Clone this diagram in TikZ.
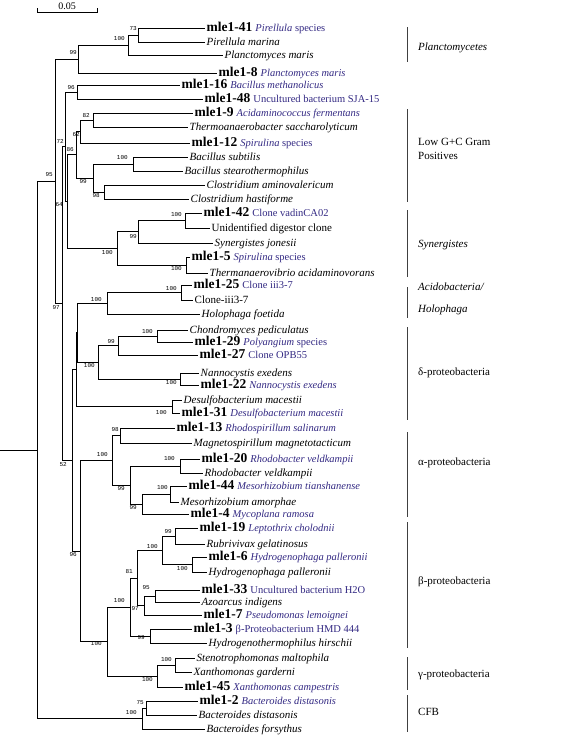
\documentclass[tikz,border=0pt]{standalone}
\usepackage{fontspec}
\setmainfont{Liberation Serif}
\newfontfamily\bsfont{Liberation Mono}
\usetikzlibrary{calc}
\definecolor{clone}{RGB}{50,40,130}
\tikzset{
 br/.style={draw=black, line width=0.8pt},
 lf/.style={anchor=west, inner sep=1.5pt, text height=8pt, text depth=2pt, font=\fontsize{11}{12}\selectfont\itshape},
 lu/.style={lf, font=\fontsize{11}{12}\selectfont},
 lm/.style={lf, font=\fontsize{11}{12}\selectfont},
 bs/.style={anchor=east, inner sep=0pt, font=\bsfont\fontsize{6}{7}\selectfont},
 grp/.style={anchor=west, inner sep=0pt, text height=8pt, text depth=2pt, font=\fontsize{11}{13}\selectfont},
 grpi/.style={grp, font=\fontsize{11}{13}\selectfont\itshape},
 gbar/.style={line width=0.9pt, draw=black!75}
}
\newcommand\ml[2]{{\fontsize{13.5}{14}\selectfont\bfseries #1}\hspace{3pt}{\color{clone}\fontsize{10.5}{12}\selectfont #2}}
\begin{document}
\begin{tikzpicture}[x=1pt,y=-1pt]
\useasboundingbox (0,0) rectangle (562,742);
% scale bar
\coordinate (sb1) at (37,12); \coordinate (sb2) at (97,12);
\draw[br] ($(sb1)+(0,-4)$) -- (sb1) -- (sb2) -- ($(sb2)+(0,-4)$);
\node[inner sep=0pt, font=\fontsize{10}{11}\selectfont] (sbl) at (67,6) {0.05};
% internal nodes
\coordinate (rs) at (0,449.9);
\coordinate (root) at (37,449.9);
\coordinate (n95) at (55,181.25);
\coordinate (p99) at (78,59);
\coordinate (p100) at (128,45);
\coordinate (p73) at (138,35);
\coordinate (n97) at (62,303.5);
\coordinate (n72) at (65,146.8);
\coordinate (bm96) at (77,92);
\coordinate (n64) at (67,201.6);
\coordinate (n86) at (76,154.75);
\coordinate (g62) at (80,131.5);
\coordinate (g82) at (93,120);
\coordinate (bc99) at (93,178);
\coordinate (bs100) at (133,164);
\coordinate (cl98) at (104,192);
\coordinate (syn100) at (117,248.4);
\coordinate (syn99) at (138,231.75);
\coordinate (s42) at (185,220.5);
\coordinate (s5) at (186,265);
\coordinate (n52) at (72,460.25);
\coordinate (nAD) at (76,369.6);
\coordinate (nADm) at (77,332.75);
\coordinate (ac100) at (107,303.25);
\coordinate (a25) at (181,292.5);
\coordinate (dm100) at (98,362.25);
\coordinate (m99) at (118,345.5);
\coordinate (cm100) at (157,336);
\coordinate (nan100) at (180,379);
\coordinate (des100) at (172,406.5);
\coordinate (pr96) at (80,550.9);
\coordinate (al100) at (112,460.25);
\coordinate (r98) at (120,435.5);
\coordinate (b99) at (130,485);
\coordinate (rb100) at (180,466);
\coordinate (mz99) at (142,504);
\coordinate (mz100) at (170,494);
\coordinate (bg100) at (107,641.5);
\coordinate (be100) at (130,606.9);
\coordinate (b81) at (137,577.9);
\coordinate (c100) at (162,550.25);
\coordinate (lep99) at (175,536);
\coordinate (hyd100) at (192,564.5);
\coordinate (b97) at (144,605.5);
\coordinate (az95) at (155,596);
\coordinate (hy99) at (150,636);
\coordinate (ga100) at (157,676);
\coordinate (st100) at (175,665);
\coordinate (cfb100) at (142,718.5);
\coordinate (c75) at (146,708);
% leaves
\node[lm] (t1) at (205,28) {\ml{mle1-41}{\textit{Pirellula} species}};
\node[lf] (t2) at (205,42) {Pirellula marina};
\node[lf] (t3) at (223,55) {Planctomyces maris};
\node[lm] (t4) at (217,73) {\ml{mle1-8}{\textit{Planctomyces maris}}};
\node[lm] (t5) at (180,85) {\ml{mle1-16}{\textit{Bacillus methanolicus}}};
\node[lm] (t6) at (203,99) {\ml{mle1-48}{Uncultured bacterium SJA-15}};
\node[lm] (t7) at (193,113) {\ml{mle1-9}{\textit{Acidaminococcus fermentans}}};
\node[lf] (t8) at (188,127) {Thermoanaerobacter saccharolyticum};
\node[lm] (t9) at (190,143) {\ml{mle1-12}{\textit{Spirulina} species}};
\node[lf] (t10) at (188,157) {Bacillus subtilis};
\node[lf] (t11) at (183,171) {Bacillus stearothermophilus};
\node[lf] (t12) at (205,185) {Clostridium aminovalericum};
\node[lf] (t13) at (189,199) {Clostridium hastiforme};
\node[lm] (t14) at (202,213) {\ml{mle1-42}{Clone vadinCA02}};
\node[lu] (t15) at (210,228) {Unidentified digestor clone};
\node[lf] (t16) at (213,243) {Synergistes jonesii};
\node[lm] (t17) at (190,257) {\ml{mle1-5}{\textit{Spirulina} species}};
\node[lf] (t18) at (208,273) {Thermanaerovibrio acidaminovorans};
\node[lm] (t19) at (192,285) {\ml{mle1-25}{Clone iii3-7}};
\node[lu] (t20) at (193,300) {Clone-iii3-7};
\node[lf] (t21) at (200,314) {Holophaga foetida};
\node[lf] (t22) at (188,330) {Chondromyces pediculatus};
\node[lm] (t23) at (193,342) {\ml{mle1-29}{\textit{Polyangium} species}};
\node[lm] (t24) at (198,355) {\ml{mle1-27}{Clone OPB55}};
\node[lf] (t25) at (199,373) {Nannocystis exedens};
\node[lm] (t26) at (199,385) {\ml{mle1-22}{\textit{Nannocystis exedens}}};
\node[lf] (t27) at (182,400) {Desulfobacterium macestii};
\node[lm] (t28) at (180,413) {\ml{mle1-31}{\textit{Desulfobacterium macestii}}};
\node[lm] (t29) at (175,428) {\ml{mle1-13}{\textit{Rhodospirillum salinarum}}};
\node[lf] (t30) at (192,443) {Magnetospirillum magnetotacticum};
\node[lm] (t31) at (200,459) {\ml{mle1-20}{\textit{Rhodobacter veldkampii}}};
\node[lf] (t32) at (203,473) {Rhodobacter veldkampii};
\node[lm] (t33) at (187,486) {\ml{mle1-44}{\textit{Mesorhizobium tianshanense}}};
\node[lf] (t34) at (179,502) {Mesorhizobium amorphae};
\node[lm] (t35) at (189,514) {\ml{mle1-4}{\textit{Mycoplana ramosa}}};
\node[lm] (t36) at (198,528) {\ml{mle1-19}{\textit{Leptothrix cholodnii}}};
\node[lf] (t37) at (205,544) {Rubrivivax gelatinosus};
\node[lm] (t38) at (207,557) {\ml{mle1-6}{\textit{Hydrogenophaga palleronii}}};
\node[lf] (t39) at (207,572) {Hydrogenophaga palleronii};
\node[lm] (t40) at (200,590) {\ml{mle1-33}{Uncultured bacterium H2O}};
\node[lf] (t41) at (200,602) {Azoarcus indigens};
\node[lm] (t42) at (202,615) {\ml{mle1-7}{\textit{Pseudomonas lemoignei}}};
\node[lm] (t43) at (192,629) {\ml{mle1-3}{β-Proteobacterium HMD 444}};
\node[lf] (t44) at (207,643) {Hydrogenothermophilus hirschii};
\node[lf] (t45) at (195,658) {Stenotrophomonas maltophila};
\node[lf] (t46) at (192,672) {Xanthomonas garderni};
\node[lm] (t47) at (183,687) {\ml{mle1-45}{\textit{Xanthomonas campestris}}};
\node[lm] (t48) at (198,701) {\ml{mle1-2}{\textit{Bacteroides distasonis}}};
\node[lf] (t49) at (197,715) {Bacteroides distasonis};
\node[lf] (t50) at (205,729) {Bacteroides forsythus};
% branches
\draw[br] (rs) -- (root);
\foreach \p/\c in {root/n95, root/cfb100, n95/p99, n95/n97, p99/p100, p99/t4, p100/p73, p100/t3, p73/t1, p73/t2,
 n97/n72, n97/n52, n72/bm96, n72/n64, bm96/t5, bm96/t6, n64/n86, n64/syn100, n86/g62, n86/bc99,
 g62/g82, g62/t9, g82/t7, g82/t8, bc99/bs100, bc99/cl98, bs100/t10, bs100/t11, cl98/t12, cl98/t13,
 syn100/syn99, syn100/s5, syn99/s42, syn99/t16, s42/t14, s42/t15, s5/t17, s5/t18,
 n52/nAD, n52/pr96, nAD/nADm, nAD/des100, nADm/ac100, nADm/dm100, ac100/a25, ac100/t21, a25/t19, a25/t20,
 dm100/m99, dm100/nan100, m99/cm100, m99/t24, cm100/t22, cm100/t23, nan100/t25, nan100/t26, des100/t27, des100/t28,
 pr96/al100, pr96/bg100, al100/r98, al100/b99, r98/t29, r98/t30, b99/rb100, b99/mz99, rb100/t31, rb100/t32,
 mz99/mz100, mz99/t35, mz100/t33, mz100/t34,
 bg100/be100, bg100/ga100, be100/b81, be100/hy99, b81/c100, b81/b97, c100/lep99, c100/hyd100,
 lep99/t36, lep99/t37, hyd100/t38, hyd100/t39, b97/az95, b97/t42, az95/t40, az95/t41, hy99/t43, hy99/t44,
 ga100/st100, ga100/t47, st100/t45, st100/t46, cfb100/c75, cfb100/t50, c75/t48, c75/t49}
 \draw[br] (\p) |- (\c);
% bootstrap values
\foreach \v/\x/\y in {73/137/29, 100/125/39, 99/77/53, 96/75/88, 82/90/116, 62/80/135, 72/64/141, 86/74/150,
 100/128/158, 95/53/175, 99/87/182, 98/100/196, 64/63/205, 100/182/215, 99/137/237, 100/113/253, 100/182/269,
 100/177/289, 100/102/300, 97/60/308, 100/153/332, 99/115/342, 100/95/366, 100/177/383, 100/167/413,
 98/119/430, 100/108/455, 100/175/459, 52/67/465, 99/125/489, 100/168/488, 99/137/508, 99/172/532,
 100/158/547, 96/77/555, 100/188/569, 81/133/572, 95/150/588, 100/125/601, 97/139/609, 99/145/638,
 100/102/644, 100/172/660, 100/153/680, 75/144/703, 100/137/713}
 \node[bs] at (\x,\y) {\v};
% group bars and labels
\draw[gbar] (407,27) -- (407,62);
\draw[gbar] (407,109) -- (407,202);
\draw[gbar] (407,210) -- (407,277);
\draw[gbar] (407,287) -- (407,318);
\draw[gbar] (407,327) -- (407,420);
\draw[gbar] (407,432) -- (407,517);
\draw[gbar] (407,522) -- (407,648);
\draw[gbar] (407,657) -- (407,690);
\draw[gbar] (407,695) -- (407,732);
\node[grpi] (g1) at (418,47) {Planctomycetes};
\node[grp] (g2a) at (418,142) {Low G+C Gram};
\node[grp] (g2b) at (418,156) {Positives};
\node[grpi] (g3) at (418,244) {Synergistes};
\node[grpi] (g4a) at (418,287) {Acidobacteria/};
\node[grpi] (g4b) at (418,309) {Holophaga};
\node[grp] (g5) at (418,372) {δ-proteobacteria};
\node[grp] (g6) at (418,462) {α-proteobacteria};
\node[grp] (g7) at (418,581) {β-proteobacteria};
\node[grp] (g8) at (418,674) {γ-proteobacteria};
\node[grp] (g9) at (418,712) {CFB};
\end{tikzpicture}
\end{document}
